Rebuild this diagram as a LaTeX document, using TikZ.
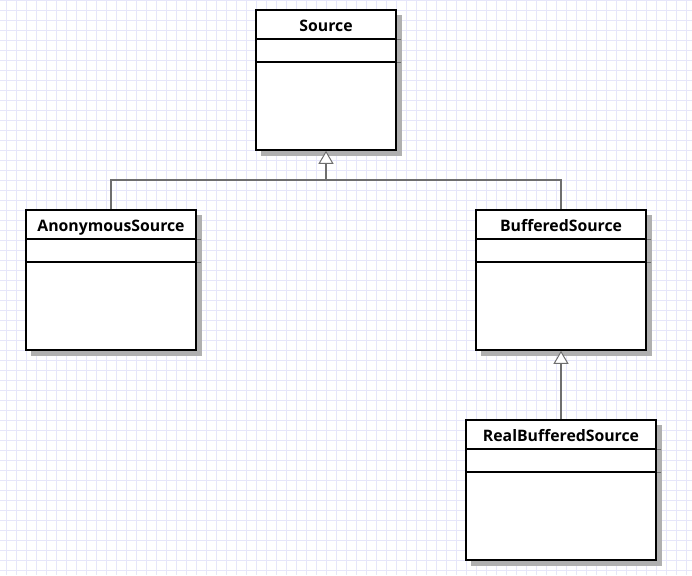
\documentclass[tikz,border=0pt]{standalone}
\usepackage{fontspec}
\setmainfont{Open Sans}
\usepackage{xcolor}
\usepackage{tikz}
\usetikzlibrary{positioning,arrows.meta}

\definecolor{gridblue}{HTML}{E6E6FA}
\definecolor{shadowgray}{HTML}{B0B0B0}
\definecolor{linkgray}{HTML}{6E6E6E}

\tikzset{
    classbox/.style={draw, line width=1.6pt, fill=white, minimum height=140pt, inner sep=0pt},
    classname/.style={font=\fontsize{15.8}{18}\selectfont\bfseries, inner sep=0pt, anchor=base},
    inherit/.style={draw=linkgray, line width=1.2pt},
    opentri/.style={-{Triangle[open, length=13pt, width=15pt, fill=white, line width=1pt]}}
}

\begin{document}
\begin{tikzpicture}[x=1pt, y=-1pt]
    \useasboundingbox (0,0) rectangle (692,575);
    % background grid
    \foreach \gx in {6,16,...,686} \draw[gridblue, line width=0.8pt] (\gx,0) -- (\gx,575);
    \foreach \gy in {0,10,...,570} \draw[gridblue, line width=0.8pt] (0,\gy) -- (692,\gy);

    % shadows
    \fill[shadowgray] (261,15) rectangle (401.5,155.5);
    \fill[shadowgray] (31,215) rectangle (201.5,355.5);
    \fill[shadowgray] (481,215) rectangle (651.5,355.5);
    \fill[shadowgray] (471,425) rectangle (661.5,565.5);

    % Source
    \node[classbox, minimum width=140pt] (src) at (326,80) {};
    \node[classname] (srcname) at ([yshift=-22pt]src.north) {Source};
    \draw[line width=1.6pt] ([yshift=-30pt]src.north west) -- ([yshift=-30pt]src.north east);
    \draw[line width=1.6pt] ([yshift=-53pt]src.north west) -- ([yshift=-53pt]src.north east);
    \draw[linkgray, line width=1pt] ([yshift=-30pt]src.north east) -- ++(4,0);
    \draw[linkgray, line width=1pt] ([yshift=-53pt]src.north east) -- ++(4,0);

    % AnonymousSource
    \node[classbox, minimum width=170pt] (anon) at (111,280) {};
    \node[classname] (anonname) at ([yshift=-22pt]anon.north) {AnonymousSource};
    \draw[line width=1.6pt] ([yshift=-30pt]anon.north west) -- ([yshift=-30pt]anon.north east);
    \draw[line width=1.6pt] ([yshift=-53pt]anon.north west) -- ([yshift=-53pt]anon.north east);
    \draw[linkgray, line width=1pt] ([yshift=-30pt]anon.north east) -- ++(4,0);
    \draw[linkgray, line width=1pt] ([yshift=-53pt]anon.north east) -- ++(4,0);

    % BufferedSource
    \node[classbox, minimum width=170pt] (buf) at (561,280) {};
    \node[classname] (bufname) at ([yshift=-22pt]buf.north) {BufferedSource};
    \draw[line width=1.6pt] ([yshift=-30pt]buf.north west) -- ([yshift=-30pt]buf.north east);
    \draw[line width=1.6pt] ([yshift=-53pt]buf.north west) -- ([yshift=-53pt]buf.north east);
    \draw[linkgray, line width=1pt] ([yshift=-30pt]buf.north east) -- ++(4,0);
    \draw[linkgray, line width=1pt] ([yshift=-53pt]buf.north east) -- ++(4,0);

    % RealBufferedSource
    \node[classbox, minimum width=190pt] (real) at (561,490) {};
    \node[classname] (realname) at ([yshift=-22pt]real.north) {RealBufferedSource};
    \draw[line width=1.6pt] ([yshift=-30pt]real.north west) -- ([yshift=-30pt]real.north east);
    \draw[line width=1.6pt] ([yshift=-53pt]real.north west) -- ([yshift=-53pt]real.north east);
    \draw[linkgray, line width=1pt] ([yshift=-30pt]real.north east) -- ++(4,0);
    \draw[linkgray, line width=1pt] ([yshift=-53pt]real.north east) -- ++(4,0);

    % generalisation links
    \coordinate (join) at (326,180);
    \draw[inherit] (anon.north) |- (join) -| (buf.north);
    \draw[inherit, line width=2.2pt, opentri] (join) -- (src.south);
    \draw[inherit, opentri] (real.north) -- (buf.south);
\end{tikzpicture}
\end{document}
